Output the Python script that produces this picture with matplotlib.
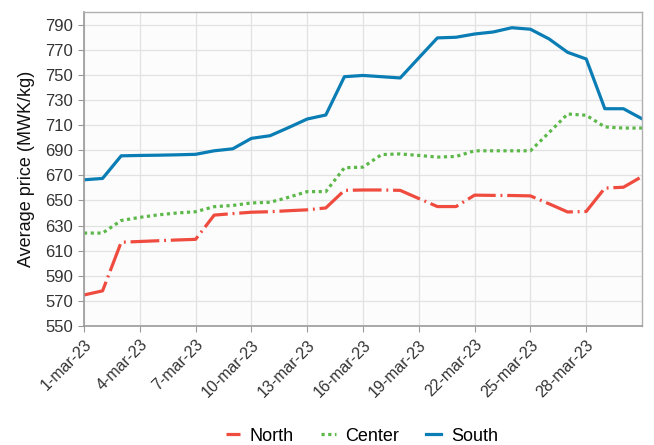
import matplotlib
matplotlib.use("Agg")
import matplotlib.pyplot as plt

# -- data (daily values 1-31 March 2023) --------------------------------------
days = list(range(1, 32))
north = [574.7, 578.0, 616.7, 617.3, 617.9, 618.5, 619.0, 638.3, 639.5, 640.6,
         641.0, 641.8, 642.5, 644.0, 658.0, 658.3, 658.3, 658.0, 651.5, 645.1,
         645.1, 654.2, 654.0, 653.9, 653.6, 647.3, 640.8, 641.2, 659.8, 660.5,
         669.0]
center = [624.0, 624.0, 634.0, 636.5, 638.5, 640.0, 641.0, 645.0, 646.0, 648.0,
          648.5, 652.5, 657.0, 657.0, 676.0, 676.5, 686.5, 687.0, 685.8, 684.5,
          685.0, 689.5, 689.5, 689.5, 689.5, 704.0, 718.8, 717.8, 708.5, 707.6,
          707.6]
south = [666.4, 667.5, 685.5, 685.8, 686.0, 686.3, 686.7, 689.5, 691.1, 699.4,
         701.5, 708.0, 714.8, 718.0, 748.5, 749.5, 748.5, 747.5, 763.5, 779.4,
         779.9, 782.5, 784.1, 787.5, 786.3, 778.6, 767.9, 762.6, 723.0, 723.0,
         715.0]
tick_days = [1, 4, 7, 10, 13, 16, 19, 22, 25, 28]
tick_labels = [f"{d}-mar-23" for d in tick_days]
y_ticks = list(range(550, 791, 20))

plt.rcParams["font.family"] = ["Liberation Sans", "DejaVu Sans"]

fig = plt.figure(figsize=(6.54, 4.45), dpi=100)
ax = fig.add_axes([0.1284, 0.2674, 0.8533, 0.7056])
ax.set_facecolor("#fcfcfc")

ax.plot(days, north, color="#ef4b3f", lw=2.3, ls=(0, (9, 1.5, 0.6, 1.5)),
        label="North", dash_capstyle="butt")
ax.plot(days, center, color="#5db84a", lw=2.3, ls=(0, (1, 1.1)),
        label="Center", dash_capstyle="butt")
ax.plot(days, south, color="#0a7db5", lw=2.3, ls="-", label="South",
        solid_joinstyle="round")

ax.set_xlim(1, 31)
ax.set_ylim(550, 800)
ax.set_yticks(y_ticks)
ax.set_xticks(tick_days)
ax.set_xticklabels(tick_labels, rotation=45, ha="right", rotation_mode="anchor")
ax.tick_params(colors="#333333", length=4.5, color="#999999", pad=3.5)
ax.tick_params(axis="y", labelsize=12)
ax.tick_params(axis="x", labelsize=11.5)
ax.set_ylabel("Average price (MWK/kg)", fontsize=13, color="#111111", labelpad=7)

ax.grid(True, color="#e2e2e2", lw=0.9)
ax.set_axisbelow(True)
for side in ("left", "bottom"):
    ax.spines[side].set_color("#9a9a9a")
    ax.spines[side].set_linewidth(1.2)
for side in ("top", "right"):
    ax.spines[side].set_color("#b0b0b0")
    ax.spines[side].set_linewidth(1.0)

fig.legend(loc="center", bbox_to_anchor=(0.553, 0.02), ncol=3, frameon=False,
           fontsize=13, handlelength=0.8, columnspacing=1.5, handletextpad=0.55)

fig.savefig("out.png", dpi=100)
